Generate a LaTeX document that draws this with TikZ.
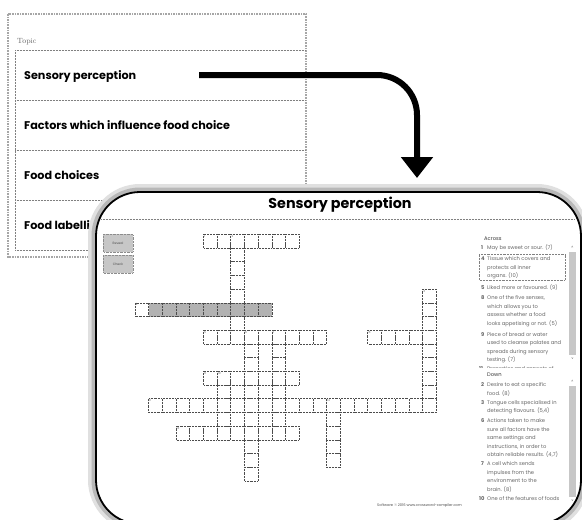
\documentclass[tikz,border=0pt]{standalone}
\usepackage{fontspec}
\newfontfamily\pop{Poppins}
\usetikzlibrary{arrows.meta}
\begin{document}
\begin{tikzpicture}[x=1pt,y=-1pt,
  topic/.style={font=\pop\bfseries\fontsize{11.2}{13}\selectfont, anchor=base west, inner sep=0pt},
  cardtitle/.style={font=\pop\bfseries\fontsize{14.3}{16}\selectfont, anchor=base, inner sep=0pt},
  clue/.style={font=\pop\fontsize{5.2}{6}\selectfont, text=black!60, anchor=base west, inner sep=0pt},
  cluenum/.style={font=\pop\bfseries\fontsize{5.2}{6}\selectfont, text=black!60, anchor=base west, inner sep=0pt},
  num/.style={font=\pop\fontsize{3}{3}\selectfont, text=black!60, anchor=north west, inner sep=0.6pt},
  cellbox/.style={draw=black!70, densely dotted, line width=0.45pt},
  rowline/.style={draw=black!50, densely dotted, line width=0.5pt},
  halo/.style={draw=black!35, line width=1.6pt, densely dotted},
  btn/.style={draw=black!45, densely dotted, fill=black!22, line width=0.4pt},
  tiny/.style={font=\pop\fontsize{3.2}{4}\selectfont, text=black!70, inner sep=0pt},
]
\useasboundingbox (0,0) rectangle (582,520);
\fill[white] (0,0) rectangle (582,520);

% ---------- back card ----------
\draw[halo] (8,14) rectangle (306,257);
\draw[rowline] (15,50) -- (15,250);
\foreach \yy in {50,100,150,200,250} \draw[rowline] (15,\yy) -- (306,\yy);
\node[font=\fontsize{7.5}{9}\selectfont, text=black!60, anchor=base west, inner sep=0pt] (topichead) at (17,43.5) {Topic};
\node[topic] (t1) at (24,79) {Sensory perception};
\node[topic] (t2) at (24,129) {Factors which influence food choice};
\node[topic] (t3) at (24,179) {Food choices};
\node[topic] (t4) at (24,229) {Food labelling};

% ---------- arrow ----------
\coordinate (arrowstart) at (199,75);
\coordinate (arrowend) at (417,178);
\draw[line width=6pt, -{Triangle[width=31pt,length=21pt]}]
  (arrowstart) -- (377,75) arc[start angle=-90,end angle=0,radius=40] -- (arrowend);

% ---------- front card ----------
\draw[draw=black!12, line width=16pt, rounded corners=44pt] (96,192) rectangle (581,524);
\draw[draw=black!28, line width=9pt, rounded corners=44pt] (96,192) rectangle (581,524);
\draw[fill=white, draw=black, line width=1.8pt, rounded corners=44pt] (96,192) rectangle (581,524);

\node[cardtitle] (title) at (340,208) {Sensory perception};
\draw[rowline] (101,219.5) -- (575,219.5);

% buttons
\draw[btn] (103.3,234.3) rectangle (132.7,251.7);
\node[tiny] (reveal) at (118,243) {Reveal};
\draw[btn] (103.3,255) rectangle (132.7,272.7);
\node[tiny] (check) at (118,264) {Check};

% ---------- grid ----------
\def\gx{203.3}\def\gy{234.3}\def\gs{13.7}
\newcommand\xcell[2]{\draw[cellbox] ({\gx+(#1)*\gs},{\gy+(#2)*\gs}) rectangle ++(\gs,\gs);}
\newcommand\xshade[2]{\fill[black!30] ({\gx+(#1)*\gs},{\gy+(#2)*\gs}) rectangle ++(\gs,\gs);}
\foreach \c in {-4,...,4} {\xshade{\c}{5}}
\foreach \c in {0,...,6} {\xcell{\c}{0}}
\foreach \r in {1,...,7} {\xcell{2}{\r}}
\foreach \c in {-5,...,4} {\xcell{\c}{5}}
\foreach \r in {4,...,12} {\xcell{16}{\r}}
\foreach \c in {0,...,8} {\xcell{\c}{7}}
\foreach \c in {12,...,16} {\xcell{\c}{7}}
\foreach \r in {7,...,17} {\xcell{3}{\r}}
\foreach \r in {7,...,14} {\xcell{5}{\r}}
\foreach \r in {10,...,14} {\xcell{1}{\r}}
\foreach \c in {0,...,6} {\xcell{\c}{10}}
\foreach \c in {-4,...,16} {\xcell{\c}{12}}
\foreach \r in {12,...,16} {\xcell{9}{\r}}
\foreach \c in {-2,...,6} {\xcell{\c}{14}}
\node[num] (g1) at ({\gx+0*\gs},{\gy+0*\gs}) {1};
\node[num] (g2) at ({\gx+2*\gs},{\gy+0*\gs}) {2};
\node[num] (g3) at ({\gx+16*\gs},{\gy+4*\gs}) {3};
\node[num] (g4) at ({\gx-5*\gs},{\gy+5*\gs}) {4};
\node[num] (g5) at ({\gx+0*\gs},{\gy+7*\gs}) {5};
\node[num] (g6) at ({\gx+3*\gs},{\gy+7*\gs}) {6};
\node[num] (g7) at ({\gx+5*\gs},{\gy+7*\gs}) {7};
\node[num] (g8) at ({\gx+12*\gs},{\gy+7*\gs}) {8};
\node[num] (g9) at ({\gx+0*\gs},{\gy+10*\gs}) {9};
\node[num] (g10) at ({\gx+1*\gs},{\gy+10*\gs}) {10};
\node[num] (g11) at ({\gx-4*\gs},{\gy+12*\gs}) {11};
\node[num] (g12) at ({\gx+9*\gs},{\gy+12*\gs}) {12};
\node[num] (g13) at ({\gx-2*\gs},{\gy+14*\gs}) {13};

% ---------- clues ----------
\node[clue, text=black!80] (across) at (484,240) {Across};
\begin{scope}
\clip (470,243) rectangle (567,367);
\draw[cellbox, draw=black!50] (479,254.7) rectangle (565,280);
\node[cluenum] (a1n) at (481,249) {1};
\node[clue] (a1) at (487,249) {May be sweet or sour. (7)};
\node[cluenum] (a4n) at (481,260.5) {4};
\node[clue] (a4a) at (487,260.5) {Tissue which covers and};
\node[clue] (a4b) at (487,269) {protects all inner};
\node[clue] (a4c) at (487,277.5) {organs. (10)};
\node[cluenum] (a5n) at (481,289) {5};
\node[clue] (a5) at (487,289) {Liked more or favoured. (9)};
\node[cluenum] (a8n) at (481,299.5) {8};
\node[clue] (a8a) at (487,299.5) {One of the five senses,};
\node[clue] (a8b) at (487,308) {which allows you to};
\node[clue] (a8c) at (487,316.5) {assess whether a food};
\node[clue] (a8d) at (487,325) {looks appetising or not. (5)};
\node[cluenum] (a9n) at (481,336) {9};
\node[clue] (a9a) at (487,336) {Piece of bread or water};
\node[clue] (a9b) at (487,344.5) {used to cleanse palates and};
\node[clue] (a9c) at (487,353) {spreads during sensory};
\node[clue] (a9d) at (487,361.5) {testing. (7)};
\node[cluenum] (a11n) at (479,370) {11};
\node[clue] (a11) at (487,370) {Properties and aspects of};
\end{scope}

\node[clue, text=black!80] (down) at (487,376.5) {Down};
\node[cluenum] (d2n) at (481,386.5) {2};
\node[clue] (d2a) at (487,386.5) {Desire to eat a specific};
\node[clue] (d2b) at (487,395) {food. (8)};
\node[cluenum] (d3n) at (481,404) {3};
\node[clue] (d3a) at (487,404) {Tongue cells specialised in};
\node[clue] (d3b) at (487,412.5) {detecting flavours. (5,4)};
\node[cluenum] (d6n) at (481,422.5) {6};
\node[clue] (d6a) at (487,422.5) {Actions taken to make};
\node[clue] (d6b) at (487,431) {sure all factors have the};
\node[clue] (d6c) at (487,439.5) {same settings and};
\node[clue] (d6d) at (487,448) {instructions, in order to};
\node[clue] (d6e) at (487,456.5) {obtain reliable results. (4,7)};
\node[cluenum] (d7n) at (481,465.5) {7};
\node[clue] (d7a) at (487,465.5) {A cell which sends};
\node[clue] (d7b) at (487,474) {impulses from the};
\node[clue] (d7c) at (487,482.5) {environment to the};
\node[clue] (d7d) at (487,491) {brain. (8)};
\node[cluenum] (d10n) at (479,500.5) {10};
\node[clue] (d10) at (487,500.5) {One of the features of foods};

% scrollbars
\fill[black!22] (569,252) rectangle (576,355);
\node[tiny] (up1) at (572.5,247.5) {\^{}};
\node[tiny] (dn1) at (572.5,359) {v};
\fill[black!22] (569,386) rectangle (576,497);
\node[tiny] (up2) at (572.5,381.5) {\^{}};
\node[tiny] (dn2) at (572.5,501) {v};

\node[font=\pop\fontsize{3.6}{4}\selectfont, text=black!70, anchor=base west, inner sep=0pt] (footer) at (377,506) {Software \textcopyright\ 2016 www.crossword-compiler.com};
\end{tikzpicture}
\end{document}
